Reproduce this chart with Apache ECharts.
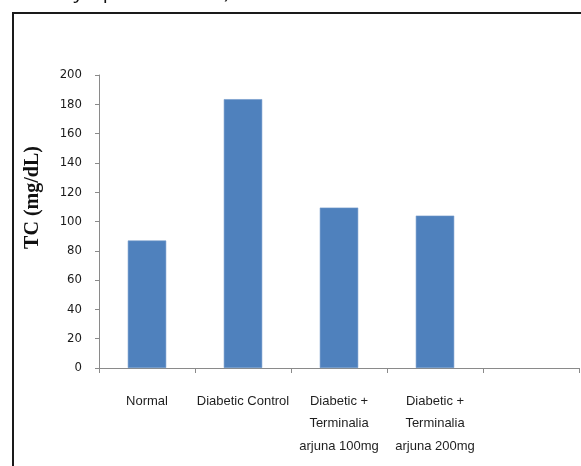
<!DOCTYPE html>
<html>
<head>
<meta charset="utf-8">
<script src="https://cdn.jsdelivr.net/npm/echarts@6/dist/echarts.min.js"></script>
<style>
html,body{margin:0;padding:0;background:#fff;}
#c{width:581px;height:466px;}
</style>
</head>
<body>
<div id="c"></div>
<script>
const categories = ['Normal', 'Diabetic Control', 'Diabetic +\nTerminalia\narjuna 100mg', 'Diabetic +\nTerminalia\narjuna 200mg', ''];
const tcValues = [87, 183.5, 109.5, 104, null];
const yTicks = { min: 0, max: 200, interval: 20 };
const yTitle = 'TC (mg/dL)';
const cutCaption = "Tukey's post-hoc test)";

const chart = echarts.init(document.getElementById('c'), null, { renderer: 'canvas' });
chart.setOption({
  backgroundColor: '#ffffff',
  animation: false,
  grid: { left: 99, right: 2, top: 75, bottom: 98, containLabel: false },
  xAxis: {
    type: 'category',
    data: categories,
    boundaryGap: true,
    axisLine: { lineStyle: { color: '#8a8a8a', width: 1 } },
    axisTick: { show: true, length: 5, lineStyle: { color: '#8a8a8a' } },
    axisLabel: {
      interval: 0,
      margin: 22,
      color: '#1e1e1e',
      fontFamily: "'Liberation Sans', Arial, sans-serif",
      fontSize: 13,
      lineHeight: 22.5
    }
  },
  yAxis: {
    type: 'value',
    min: yTicks.min,
    max: yTicks.max,
    interval: yTicks.interval,
    name: yTitle,
    nameLocation: 'middle',
    nameGap: 56,
    nameRotate: 90,
    nameTextStyle: {
      fontFamily: "'Liberation Serif', 'Times New Roman', serif",
      fontWeight: 'bold',
      fontSize: 20,
      color: '#111',
      padding: [0, 0, 0, 48]
    },
    axisLine: { show: true, lineStyle: { color: '#8a8a8a', width: 1 } },
    axisTick: { show: true, length: 4, lineStyle: { color: '#8a8a8a' } },
    splitLine: { show: false },
    axisLabel: {
      margin: 17,
      color: '#1a1a1a',
      fontFamily: "'Liberation Sans Narrow', 'DejaVu Sans Condensed', 'Liberation Sans', sans-serif",
      fontSize: 13
    }
  },
  series: [{
    type: 'bar',
    data: tcValues,
    barWidth: '40%',
    itemStyle: { color: '#4F81BD', borderColor: '#6f97c9', borderWidth: 0.6 }
  }],
  graphic: [
    {
      type: 'polyline',
      shape: { points: [[13, 470], [13, 13], [585, 13]] },
      style: { stroke: '#1a1a1a', lineWidth: 2, fill: null },
      silent: true
    },
    {
      type: 'text',
      right: 351,
      top: -18,
      style: {
        text: cutCaption,
        fontFamily: "'Open Sans', sans-serif",
        fontSize: 20,
        fill: '#111'
      },
      silent: true
    }
  ]
});
</script>
</body>
</html>
